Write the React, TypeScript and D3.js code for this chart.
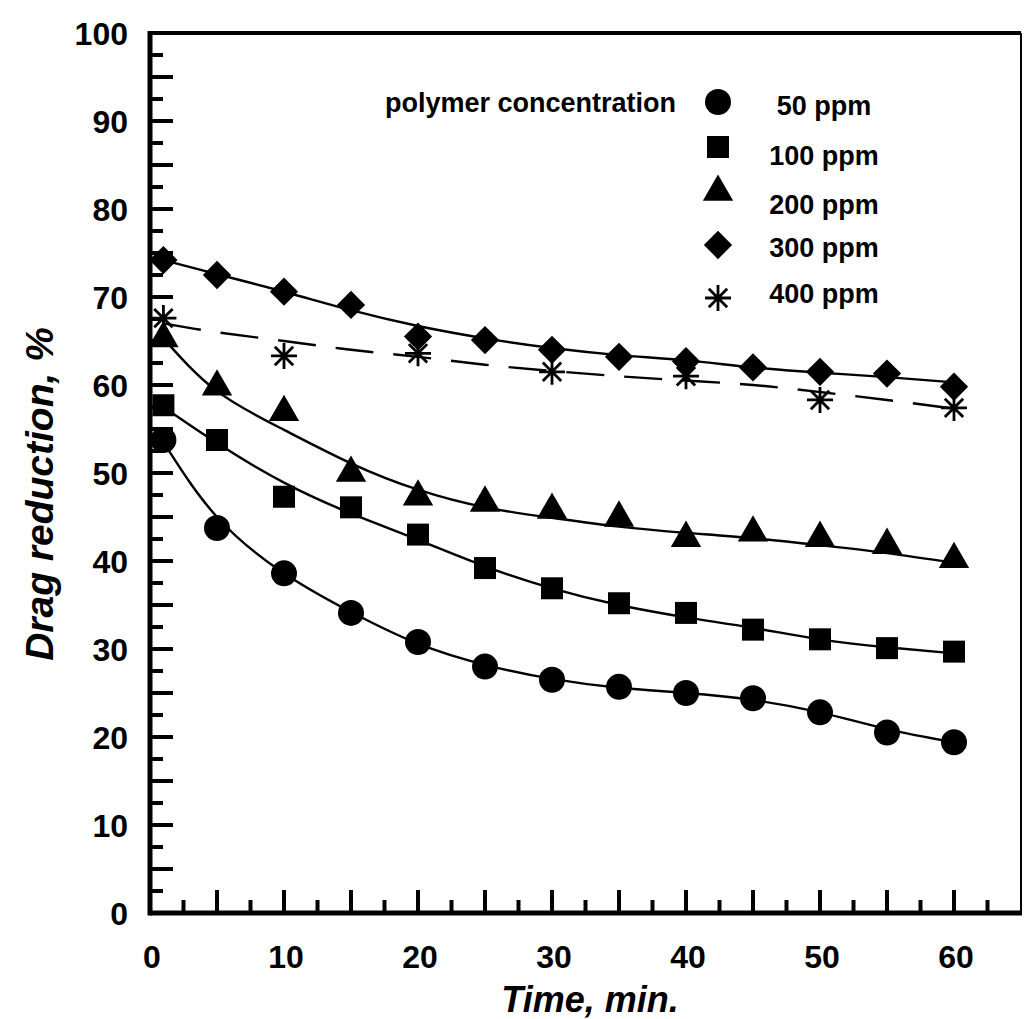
import React from "react";
import * as d3 from "d3";

// Sampling times (min) for the four solid-line series
const times = [1, 5, 10, 15, 20, 25, 30, 35, 40, 45, 50, 55, 60];
// Sampling times for the 400 ppm series
const times400 = [1, 10, 20, 30, 40, 50, 60];

// Measured drag reduction, %
const dr50 = [53.75, 43.75, 38.6, 34.1, 30.8, 28.0, 26.5, 25.7, 25.0, 24.4, 22.8, 20.5, 19.4];
const dr100 = [57.7, 53.75, 47.3, 46.1, 43.0, 39.2, 36.9, 35.2, 34.1, 32.2, 31.1, 30.1, 29.7];
const dr200 = [65.3, 59.8, 56.9, 50.0, 47.3, 46.6, 45.8, 44.9, 42.6, 43.2, 42.6, 41.8, 40.2];
const dr300 = [74.2, 72.5, 70.6, 69.1, 65.5, 65.1, 64.0, 63.2, 62.7, 62.0, 61.5, 61.3, 59.8];
const dr400 = [67.6, 63.3, 63.6, 61.5, 61.0, 58.3, 57.4];

// Smoothed fit curves through each series
const fit50 = [53.5, 45.0, 38.6, 34.2, 30.6, 28.2, 26.6, 25.6, 25.0, 24.2, 22.8, 20.9, 19.4];
const fit100 = [57.5, 53.4, 48.9, 45.4, 42.4, 39.4, 36.9, 35.0, 33.6, 32.4, 31.1, 30.2, 29.5];
const fit200 = [65.3, 59.3, 54.9, 51.1, 48.1, 46.1, 44.9, 43.9, 43.2, 42.6, 41.8, 40.9, 39.8];
const fit300 = [74.2, 72.6, 70.6, 68.5, 66.7, 65.3, 64.2, 63.4, 62.8, 62.0, 61.4, 60.9, 60.3];
const fit400 = [67.0, 66.0, 65.0, 64.0, 63.2, 62.3, 61.6, 61.0, 60.5, 60.0, 59.2, 58.3, 57.3];

const seriesLabels = ["50 ppm", "100 ppm", "200 ppm", "300 ppm", "400 ppm"];
const xTickLabels = [0, 10, 20, 30, 40, 50, 60];
const yTickLabels = [0, 10, 20, 30, 40, 50, 60, 70, 80, 90, 100];

const FONT = "'Liberation Sans', Arial, Helvetica, sans-serif";

// Eight-armed star used for the 400 ppm points
const symbolStar8 = {
  draw(context: any, size: number) {
    const r = Math.sqrt(size) / 2;
    for (let k = 0; k < 4; k++) {
      const a = (k * Math.PI) / 4;
      const dx = Math.cos(a) * r;
      const dy = Math.sin(a) * r;
      context.moveTo(-dx, -dy);
      context.lineTo(dx, dy);
    }
  },
};

type Marker = { type: any; size: number; rotate: number; stroke: boolean };

const markers: Marker[] = [
  { type: d3.symbolCircle, size: Math.PI * 13 * 13, rotate: 0, stroke: false },
  { type: d3.symbolSquare, size: 22 * 22, rotate: 0, stroke: false },
  { type: d3.symbolTriangle, size: 400, rotate: 0, stroke: false },
  { type: d3.symbolSquare, size: 20 * 20, rotate: 45, stroke: false },
  { type: symbolStar8, size: 26 * 26, rotate: 0, stroke: true },
];

function MarkerShape({ m, x, y }: { m: Marker; x: number; y: number }) {
  const d = d3.symbol().type(m.type).size(m.size)() as string;
  return (
    <path
      d={d}
      transform={`translate(${x},${y}) rotate(${m.rotate})`}
      fill={m.stroke ? "none" : "#000"}
      stroke={m.stroke ? "#000" : "none"}
      strokeWidth={m.stroke ? 2.8 : 0}
    />
  );
}

export default function App() {
  const width = 1032;
  const height = 1019;
  const x = d3.scaleLinear().domain([0, 65]).range([150, 1021]);
  const y = d3.scaleLinear().domain([0, 100]).range([913, 33]);

  const line = d3
    .line<[number, number]>()
    .x((d) => x(d[0]))
    .y((d) => y(d[1]))
    .curve(d3.curveNatural);

  const points = [
    { t: times, v: dr50, fit: fit50, dashed: false },
    { t: times, v: dr100, fit: fit100, dashed: false },
    { t: times, v: dr200, fit: fit200, dashed: false },
    { t: times, v: dr300, fit: fit300, dashed: false },
    { t: times400, v: dr400, fit: fit400, dashed: true },
  ];

  const xMinor = d3.range(2.5, 65, 2.5);
  const yMinor = d3.range(2.5, 100, 2.5);
  const isMajor = (v: number) => Math.abs(v / 5 - Math.round(v / 5)) < 1e-6;

  const legendRows = [102, 147, 192, 245, 298];
  const legendBase = [115, 165, 214, 257, 303];

  return (
    <svg
      width={width}
      height={height}
      style={{ position: "absolute", left: 0, top: 0, background: "#fff" }}
      fontFamily={FONT}
    >
      <rect x={0} y={0} width={width} height={height} fill="#fff" />

      {/* fit curves */}
      {points.map((s, i) => (
        <path
          key={`fit${i}`}
          d={line(times.map((t, j) => [t, s.fit[j]] as [number, number])) as string}
          fill="none"
          stroke="#000"
          strokeWidth={2.4}
          strokeDasharray={s.dashed ? "38 20" : undefined}
        />
      ))}

      {/* data markers */}
      {points.map((s, i) =>
        s.t.map((t, j) => (
          <MarkerShape key={`m${i}-${j}`} m={markers[i]} x={x(t)} y={y(s.v[j])} />
        ))
      )}

      {/* frame */}
      <line x1={x(0)} x2={x(65)} y1={y(100)} y2={y(100)} stroke="#000" strokeWidth={4} />
      <line x1={x(65)} x2={x(65)} y1={y(100)} y2={y(0)} stroke="#000" strokeWidth={2} />
      <line x1={x(0)} x2={x(65) + 1} y1={y(0)} y2={y(0)} stroke="#000" strokeWidth={5} />
      <line x1={x(0)} x2={x(0)} y1={y(100) - 2} y2={y(0) + 2.5} stroke="#000" strokeWidth={5} />

      {/* x ticks (inward) */}
      {xMinor.map((v) => (
        <line
          key={`xt${v}`}
          x1={x(v)}
          x2={x(v)}
          y1={y(0)}
          y2={y(0) - (isMajor(v) ? 23 : 13)}
          stroke="#000"
          strokeWidth={4}
        />
      ))}
      {/* y ticks (inward) */}
      {yMinor.map((v) => (
        <line
          key={`yt${v}`}
          x1={x(0)}
          x2={x(0) + (isMajor(v) ? 23 : 13)}
          y1={y(v)}
          y2={y(v)}
          stroke="#000"
          strokeWidth={4}
        />
      ))}

      {/* tick labels */}
      {xTickLabels.map((v) => (
        <text
          key={`xl${v}`}
          x={x(v) + 2}
          y={968}
          textAnchor="middle"
          fontSize={32}
          fontWeight="bold"
        >
          {v}
        </text>
      ))}
      {yTickLabels.map((v) => (
        <text
          key={`yl${v}`}
          x={128}
          y={y(v) + 11.5}
          textAnchor="end"
          fontSize={32}
          fontWeight="bold"
        >
          {v}
        </text>
      ))}

      {/* axis titles */}
      <text x={590} y={1012} textAnchor="middle" fontSize={36} fontWeight="bold" fontStyle="italic">
        Time, min.
      </text>
      <text
        transform="translate(53,494) rotate(-90)"
        textAnchor="middle"
        fontSize={39}
        fontWeight="bold"
        fontStyle="italic"
      >
        Drag reduction, %
      </text>

      {/* legend */}
      <text x={676} y={112} textAnchor="end" fontSize={27} fontWeight="bold">
        polymer concentration
      </text>
      {seriesLabels.map((lab, i) => (
        <g key={`lg${i}`}>
          <MarkerShape m={markers[i]} x={718} y={legendRows[i]} />
          <text x={824} y={legendBase[i]} textAnchor="middle" fontSize={27} fontWeight="bold">
            {lab}
          </text>
        </g>
      ))}
    </svg>
  );
}
